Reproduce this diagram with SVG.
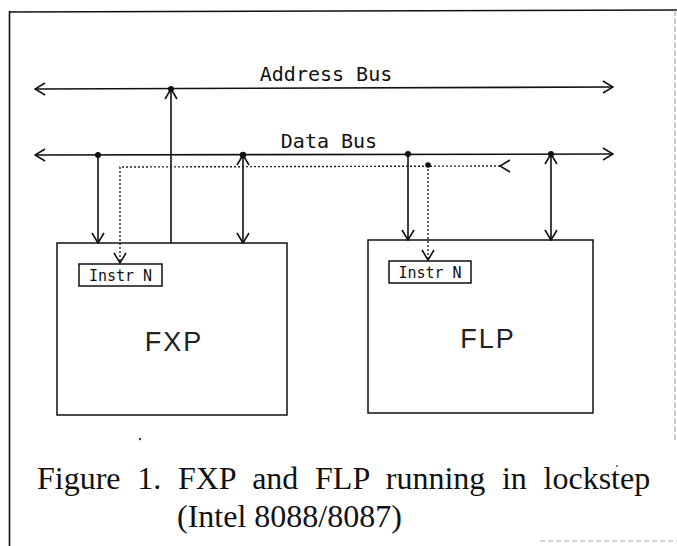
<svg xmlns="http://www.w3.org/2000/svg" width="677" height="546" viewBox="0 0 677 546">
  <style>
    .ln { stroke: #111; stroke-width: 1.6; fill: none; }
    .dt { stroke: #222; stroke-width: 1.4; fill: none; stroke-dasharray: 2 2; }
    .box { stroke: #111; stroke-width: 1.5; fill: #fff; }
    .dot { fill: #111; }
    .bus { font-family: "DejaVu Sans Mono", "Liberation Mono", monospace; font-size: 20px; fill: #111; }
    .ins { font-family: "DejaVu Sans Mono", "Liberation Mono", monospace; font-size: 15px; fill: #111; }
    .big { font-family: "Liberation Sans", Arial, sans-serif; font-size: 27px; fill: #222; letter-spacing: 2px; }
    .cap { font-family: "Liberation Serif", "Times New Roman", serif; font-size: 32px; fill: #111; }
  </style>
  <defs>
    <marker id="a" viewBox="0 0 12 14" refX="11" refY="7" markerWidth="12" markerHeight="14" markerUnits="userSpaceOnUse" orient="auto">
      <path d="M1,1 L11,7 L1,13" fill="none" stroke="#111" stroke-width="1.6"/>
    </marker>
    <marker id="b" viewBox="0 0 12 14" refX="11" refY="7" markerWidth="12" markerHeight="14" markerUnits="userSpaceOnUse" orient="auto-start-reverse">
      <path d="M1,1 L11,7 L1,13" fill="none" stroke="#111" stroke-width="1.6"/>
    </marker>
  </defs>
  <rect width="677" height="546" fill="#fff"/>

  <g id="frame">
    <line x1="9" y1="12" x2="677" y2="10" stroke="#111" stroke-width="1.6"/>
    <line x1="9.5" y1="11" x2="9.5" y2="546" stroke="#111" stroke-width="1.6"/>
    <line x1="675" y1="10" x2="675" y2="440" stroke="#999" stroke-width="1" stroke-dasharray="6 2"/>
    <line x1="540" y1="541" x2="677" y2="541" stroke="#aaa" stroke-width="1" stroke-dasharray="5 3"/>
  </g>

  <g id="address-bus">
    <text class="bus" x="326" y="81" text-anchor="middle">Address Bus</text>
  </g>
  <g id="data-bus">
    <text class="bus" x="329" y="148" text-anchor="middle">Data Bus</text>
  </g>

  <g id="fxp">
    <rect class="box" x="57" y="243" width="230" height="172"/>
    <text class="big" x="174" y="351" text-anchor="middle">FXP</text>
  </g>
  <g id="fxp-instr">
    <rect class="box" x="79" y="264" width="83" height="22"/>
    <text class="ins" x="120.5" y="280.5" text-anchor="middle">Instr N</text>
  </g>
  <g id="flp">
    <rect class="box" x="368" y="240" width="225" height="173"/>
    <text class="big" x="488" y="348" text-anchor="middle">FLP</text>
  </g>
  <g id="flp-instr">
    <rect class="box" x="389" y="261" width="82" height="22"/>
    <text class="ins" x="430" y="277.5" text-anchor="middle">Instr N</text>
  </g>

  <g id="connectors">
    <line class="ln" x1="35" y1="89" x2="613" y2="87" marker-start="url(#b)" marker-end="url(#b)"/>
    <line class="ln" x1="35" y1="155" x2="613" y2="154" marker-start="url(#b)" marker-end="url(#b)"/>
    <line class="ln" x1="171" y1="243" x2="171" y2="89" marker-end="url(#a)"/>
    <line class="ln" x1="98" y1="155" x2="98" y2="243" marker-end="url(#a)"/>
    <line class="ln" x1="243" y1="155" x2="243" y2="243" marker-start="url(#b)" marker-end="url(#b)"/>
    <line class="ln" x1="408" y1="154" x2="408" y2="240" marker-end="url(#a)"/>
    <line class="ln" x1="551" y1="154" x2="551" y2="240" marker-start="url(#b)" marker-end="url(#b)"/>
    <polyline class="dt" points="500,166 120,167 120,263" marker-start="url(#a)" marker-end="url(#a)"/>
    <line class="dt" x1="428" y1="165" x2="428" y2="260" marker-end="url(#a)"/>
    <circle class="dot" cx="171" cy="89" r="3"/>
    <circle class="dot" cx="98" cy="155" r="3"/>
    <circle class="dot" cx="243" cy="155" r="3.2"/>
    <circle class="dot" cx="408" cy="154" r="3"/>
    <circle class="dot" cx="551" cy="154" r="3"/>
    <circle class="dot" cx="428" cy="165" r="2.8"/>
  </g>

  <g id="caption">
    <text class="cap" x="37" y="489" word-spacing="8.7">Figure 1. FXP and FLP running in lockstep</text>
    <text class="cap" x="177" y="527">(Intel 8088/8087)</text>
  </g>
  <circle cx="140" cy="439" r="1.2" fill="#333"/>
  <circle cx="617" cy="466" r="1" fill="#555"/>
</svg>
